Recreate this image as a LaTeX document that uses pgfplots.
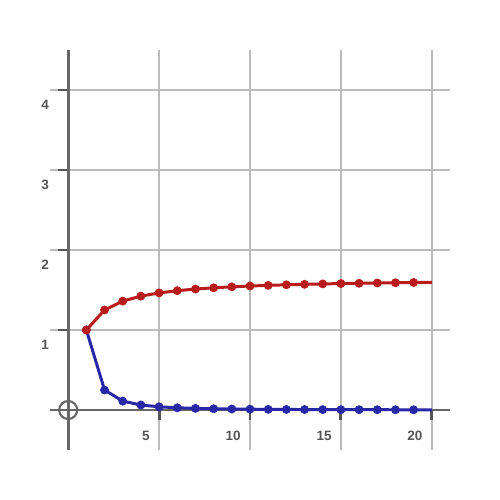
\documentclass[border=0pt]{standalone}
\usepackage{pgfplots}
\pgfplotsset{compat=1.18}
\usepackage{fontspec}
\setmainfont{Liberation Sans}
\definecolor{axgray}{HTML}{666666}
\definecolor{tickgray}{HTML}{555555}
\definecolor{gridgray}{HTML}{BBBBBB}
\definecolor{lblgray}{HTML}{555555}
\definecolor{myred}{HTML}{B81C1C}
\definecolor{myblue}{HTML}{2828A6}
\begin{document}
\begin{tikzpicture}
\begin{axis}[
  scale only axis, width=8cm, height=8cm,
  xmin=-1, xmax=21, ymin=-0.5, ymax=4.5,
  axis lines=middle,
  axis line style={-, draw=axgray, line width=1.7pt},
  xtick={5,10,15,20}, ytick={1,2,3,4},
  grid=major,
  grid style={draw=gridgray, line width=1.4pt},
  tick align=outside,
  major tick length=2mm,
  tick style={draw=tickgray, line width=1.7pt},
  xticklabel style={anchor=east, inner sep=0pt, xshift=-1.8mm, yshift=-3.1mm, font=\bfseries\fontsize{7.7}{9}\selectfont, text=lblgray},
  yticklabel style={anchor=east, inner sep=0pt, xshift=-1.8mm, yshift=-3.0mm, font=\bfseries\fontsize{7.7}{9}\selectfont, text=lblgray},
  /pgf/number format/assume math mode=true,
  clip=false,
]
\path[use as bounding box] (rel axis cs:-0.125,-0.125) rectangle (rel axis cs:1.125,1.125);
\addplot[only marks, mark=o, mark size=1.8mm, mark options={draw=axgray, line width=1.2pt}] coordinates {(0,0)};
\addplot[myblue, line width=1.7pt, no marks] coordinates {
(1,1) (2,0.25) (3,0.1111) (4,0.0625) (5,0.04) (6,0.02778) (7,0.02041) (8,0.015625) (9,0.012346) (10,0.01)
(11,0.008264) (12,0.006944) (13,0.005917) (14,0.005102) (15,0.004444) (16,0.003906) (17,0.00346) (18,0.003086) (19,0.00277) (20,0.0025)};
\addplot[only marks, mark=*, mark size=2.3pt, color=myblue] coordinates {
(1,1) (2,0.25) (3,0.1111) (4,0.0625) (5,0.04) (6,0.02778) (7,0.02041) (8,0.015625) (9,0.012346) (10,0.01)
(11,0.008264) (12,0.006944) (13,0.005917) (14,0.005102) (15,0.004444) (16,0.003906) (17,0.00346) (18,0.003086) (19,0.00277)};
\addplot[myred, line width=1.7pt, no marks] coordinates {
(1,1) (2,1.25) (3,1.3611) (4,1.4236) (5,1.4636) (6,1.4914) (7,1.5118) (8,1.5274) (9,1.5398) (10,1.5498)
(11,1.5580) (12,1.5650) (13,1.5709) (14,1.5760) (15,1.5804) (16,1.5843) (17,1.5878) (18,1.5909) (19,1.5937) (20,1.5962)};
\addplot[only marks, mark=*, mark size=2.3pt, color=myred] coordinates {
(1,1) (2,1.25) (3,1.3611) (4,1.4236) (5,1.4636) (6,1.4914) (7,1.5118) (8,1.5274) (9,1.5398) (10,1.5498)
(11,1.5580) (12,1.5650) (13,1.5709) (14,1.5760) (15,1.5804) (16,1.5843) (17,1.5878) (18,1.5909) (19,1.5937)};
\end{axis}
\end{tikzpicture}
\end{document}
